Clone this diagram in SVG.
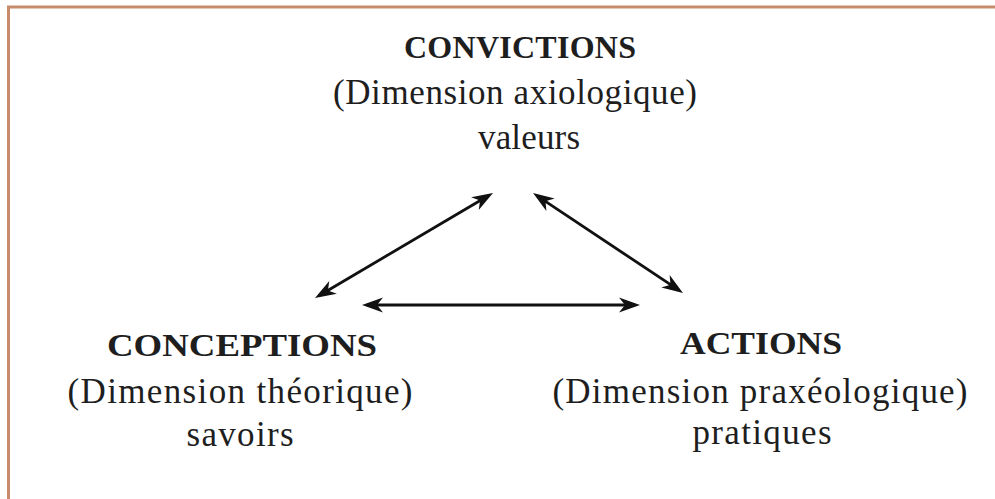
<svg xmlns="http://www.w3.org/2000/svg" width="995" height="499" viewBox="0 0 995 499">
  <defs>
    <style>
      .t { font-family: "Liberation Serif", "Times New Roman", serif; fill: #1e1e1e; text-anchor: middle; }
      .b { font-weight: bold; font-size: 32px; }
      .r { font-size: 35px; }
      .c { stroke: #111; stroke-width: 2.8; fill: none; }
    </style>
    <marker id="ah" markerUnits="userSpaceOnUse" markerWidth="30" markerHeight="20" viewBox="-26 -10 30 20" refX="-5" refY="0" orient="auto-start-reverse">
      <path d="M0,0 L-21,-7.5 L-15,0 L-21,7.5 Z" fill="#111"/>
    </marker>
  </defs>
  <rect x="0" y="0" width="995" height="499" fill="#ffffff"/>
  <rect x="8.5" y="7" width="1000" height="500" fill="none" stroke="#c68c6c" stroke-width="3"/>

  <g id="convictions">
    <text class="t b" x="520" y="58" textLength="232">CONVICTIONS</text>
    <text class="t r" x="515" y="104" textLength="364">(Dimension axiologique)</text>
    <text class="t r" x="529" y="149" textLength="102">valeurs</text>
  </g>
  <g id="conceptions">
    <text class="t b" x="242" y="356" textLength="270" lengthAdjust="spacingAndGlyphs">CONCEPTIONS</text>
    <text class="t r" x="240" y="403" textLength="345">(Dimension théorique)</text>
    <text class="t r" x="240" y="446" textLength="107">savoirs</text>
  </g>
  <g id="actions">
    <text class="t b" x="761" y="354" textLength="162" lengthAdjust="spacingAndGlyphs">ACTIONS</text>
    <text class="t r" x="760" y="403" textLength="415">(Dimension praxéologique)</text>
    <text class="t r" x="762" y="444" textLength="139">pratiques</text>
  </g>

  <g id="connectors">
    <line class="c" x1="319.3" y1="295.5" x2="488.7" y2="195.5" marker-start="url(#ah)" marker-end="url(#ah)"/>
    <line class="c" x1="537.2" y1="195.8" x2="678.8" y2="290.2" marker-start="url(#ah)" marker-end="url(#ah)"/>
    <line class="c" x1="367" y1="305" x2="635" y2="305" marker-start="url(#ah)" marker-end="url(#ah)"/>
  </g>
</svg>
